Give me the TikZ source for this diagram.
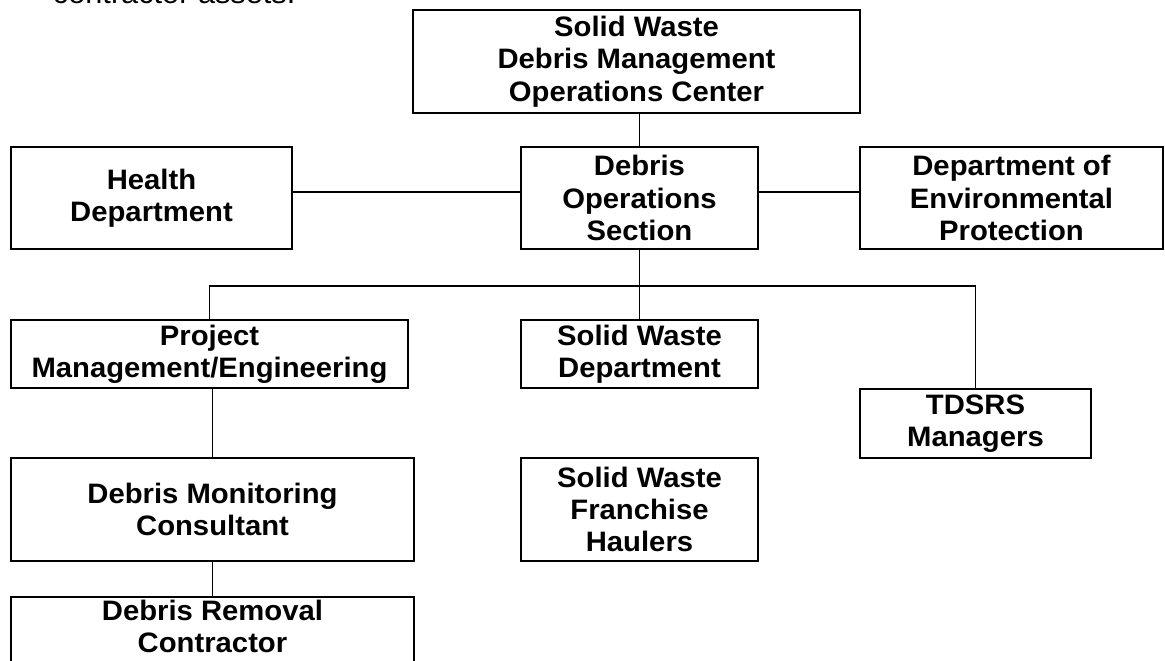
\documentclass[tikz,border=0pt]{standalone}
\usepackage{fontspec}
\newfontfamily\chartfont[FakeStretch=1.04]{Liberation Sans}
\usepackage{tikz}
\usetikzlibrary{positioning}
\tikzset{
  orgbox/.style = {rectangle, draw=black, line width=1.4pt, align=center,
    inner sep=0pt, text centered,
    font=\chartfont\bfseries\fontsize{20}{23}\selectfont},% box of the chart
  boxsize/.style 2 args = {minimum width=#1*0.025cm,
    minimum height=#2*0.025cm},% size in pixels
  orgline/.style = {draw=black, line width=1.4pt}% connector
}

\begin{document}
\begin{tikzpicture}[x=0.025cm,y=-0.025cm]
\useasboundingbox (0,0) rectangle (1165,660);

\node [anchor=base west, font=\chartfont\fontsize{21}{24}\selectfont] (cassets) at (48,3) {contractor assets.};

\node [orgbox, boxsize={447}{103}] (occ) at (636.5,61.5) {Solid Waste\\Debris Management\\Operations Center};
\node [orgbox, boxsize={237}{102}] (dos) at (639.5,198) {Debris\\Operations\\Section};
\node [orgbox, boxsize={281}{102}] (hd) at (151.5,198) {Health\\Department};
\node [orgbox, boxsize={303}{102}] (dep) at (1011.5,198) {Department of\\Environmental\\Protection};

\node [orgbox, boxsize={397}{68}] (pme) at (209.5,354) {Project\\Management/Engineering};
\node [orgbox, boxsize={237}{68}] (swd) at (639.5,354) {Solid Waste\\Department};
\node [orgbox, boxsize={231}{69}] (tdsrs) at (975.5,423.5) {TDSRS\\Managers};
\node [orgbox, boxsize={237}{103}] (swfh) at (639.5,509.5) {Solid Waste\\Franchise\\Haulers};
\node [orgbox, boxsize={403}{103}] (dmc) at (212.5,509.5) {Debris Monitoring\\Consultant};
\node [orgbox, boxsize={403}{68}, text depth=7pt, anchor=north] (drc) at (212.5,596) {Debris Removal\\Contractor};

\coordinate (bus) at ([yshift=-25.6pt]dos.south);

\draw [orgline] (occ.south -| dos.north) -- (dos.north);
\draw [orgline] ([yshift=4pt]hd.east) -- ([yshift=4pt]hd.east -| dos.west);
\draw [orgline] ([yshift=4pt]dos.east) -- ([yshift=4pt]dos.east -| dep.west);
\draw [orgline] (dos.south) -- (swd.north);
\draw [orgline] (pme.north) |- (bus) -| (tdsrs.north);
\draw [orgline] (dmc.north |- pme.south) -- (dmc.north);
\draw [orgline] (dmc.south) -- (drc.north);
\end{tikzpicture}
\end{document}
